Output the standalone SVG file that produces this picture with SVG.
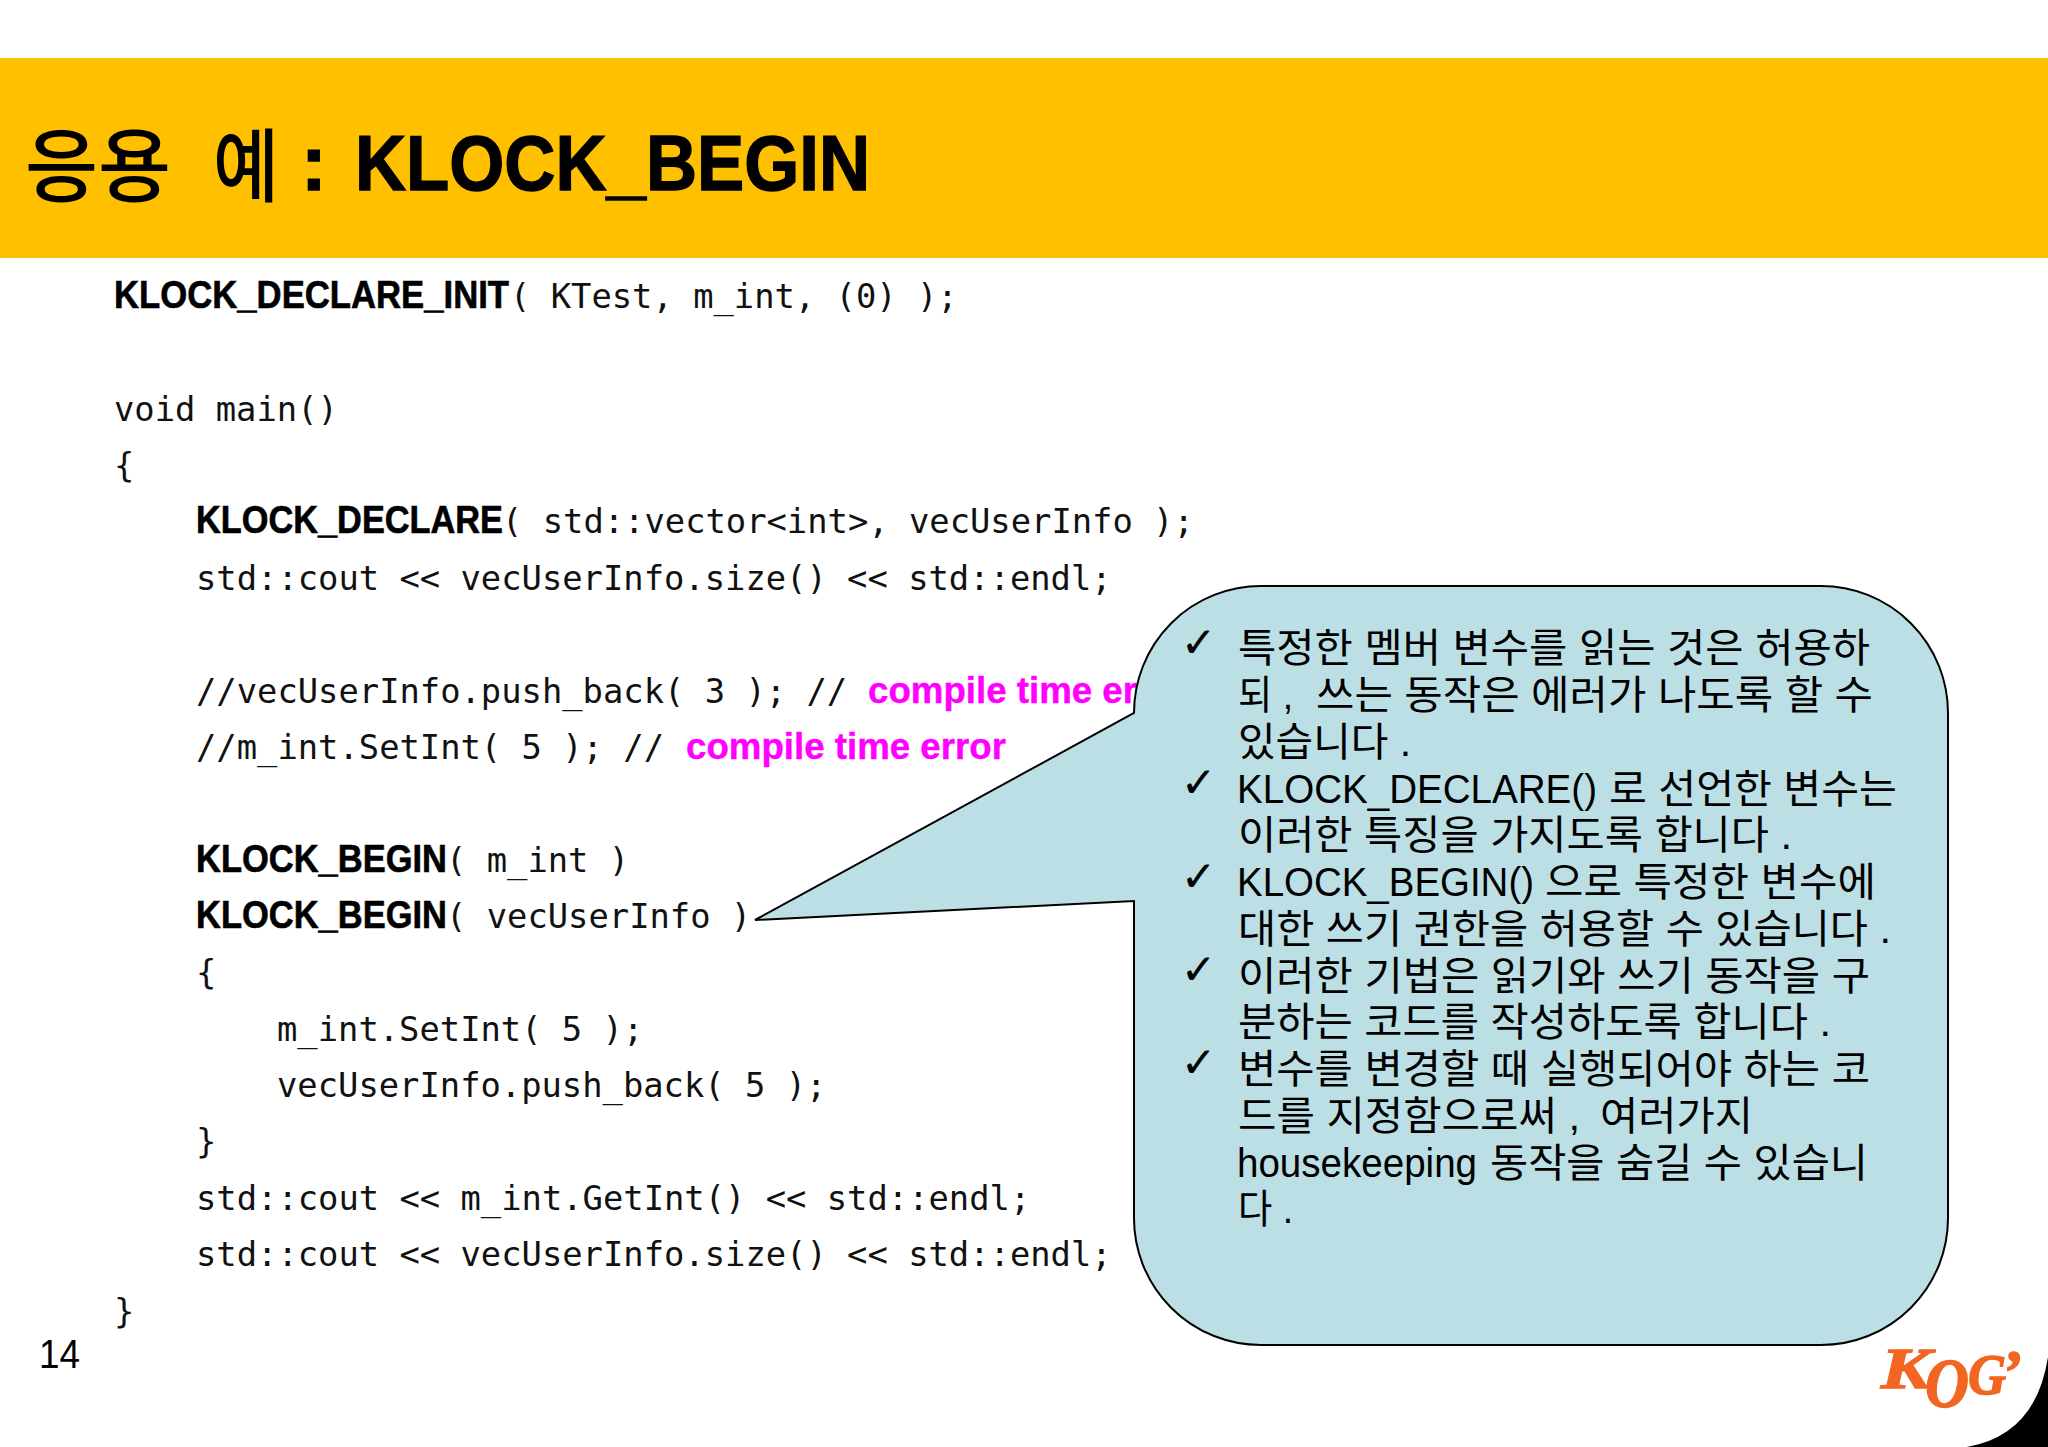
<svg xmlns="http://www.w3.org/2000/svg" width="2048" height="1447" viewBox="0 0 2048 1447">
<style>
.mono{font-family:"DejaVu Sans Mono","Liberation Mono",monospace;font-size:33.8px;fill:#111}
.kw{font-family:"Liberation Sans",Arial,sans-serif;font-size:38px;font-weight:700;fill:#000;stroke:#000;stroke-width:.6px}
.mg{font-family:"Liberation Sans",Arial,sans-serif;font-size:37px;font-weight:700;fill:#ff00ff;stroke:#ff00ff;stroke-width:.4px}
.bt{font-family:"Liberation Sans","Noto Sans CJK KR",sans-serif;font-size:40px;fill:#000}
.ck{font-family:"DejaVu Sans",sans-serif;font-size:42px;fill:#000;stroke:#000;stroke-width:.3px}
.tt{font-family:"Liberation Sans",sans-serif;font-size:77px;font-weight:700;fill:#000;stroke:#000;stroke-width:1.4px}
.tk{font-family:"Noto Sans CJK KR",sans-serif;font-size:80px;font-weight:500;fill:#000}
.lg{font-family:"Liberation Serif",serif;font-weight:700;font-style:italic;fill:#f26522;stroke:#f26522;stroke-width:1.5px}
</style>
<rect width="2048" height="1447" fill="#fff"/>
<g id="banner">
<rect x="0" y="58" width="2048" height="200" fill="#ffc000"/>
<text class="tk" x="25" y="195" textLength="146" lengthAdjust="spacingAndGlyphs">응용</text>
<text class="tk" x="213" y="195" textLength="66" lengthAdjust="spacingAndGlyphs">예</text>
<text class="tt" x="301" y="190">:</text>
<text class="tt" x="355" y="190" textLength="515" lengthAdjust="spacingAndGlyphs">KLOCK_BEGIN</text>
</g>
<g id="code">
<text class="kw" x="114" y="308" textLength="395" lengthAdjust="spacingAndGlyphs">KLOCK_DECLARE_INIT</text>
<text class="mono" x="510" y="308" xml:space="preserve">( KTest, m_int, (0) );</text>
<text class="mono" x="114" y="420.7">void main()</text>
<text class="mono" x="114" y="477.1">{</text>
<text class="kw" x="196" y="533.4" textLength="307" lengthAdjust="spacingAndGlyphs">KLOCK_DECLARE</text>
<text class="mono" x="502" y="533.4" xml:space="preserve">( std::vector&lt;int&gt;, vecUserInfo );</text>
<text class="mono" x="196" y="589.8" xml:space="preserve">std::cout &lt;&lt; vecUserInfo.size() &lt;&lt; std::endl;</text>
<text class="mono" x="196" y="702.5" xml:space="preserve">//vecUserInfo.push_back( 3 ); // </text>
<text class="mg" x="868" y="702.5" textLength="320" lengthAdjust="spacingAndGlyphs">compile time error</text>
<text class="mono" x="196" y="758.9" xml:space="preserve">//m_int.SetInt( 5 ); // </text>
<text class="mg" x="686" y="758.9" textLength="320" lengthAdjust="spacingAndGlyphs">compile time error</text>
<text class="kw" x="196" y="871.6" textLength="251" lengthAdjust="spacingAndGlyphs">KLOCK_BEGIN</text>
<text class="mono" x="446" y="871.6" xml:space="preserve">( m_int )</text>
<text class="kw" x="196" y="928" textLength="251" lengthAdjust="spacingAndGlyphs">KLOCK_BEGIN</text>
<text class="mono" x="446" y="928" xml:space="preserve">( vecUserInfo )</text>
<text class="mono" x="196" y="984.3">{</text>
<text class="mono" x="277" y="1040.7" xml:space="preserve">m_int.SetInt( 5 );</text>
<text class="mono" x="277" y="1097" xml:space="preserve">vecUserInfo.push_back( 5 );</text>
<text class="mono" x="196" y="1153.4">}</text>
<text class="mono" x="196" y="1209.8" xml:space="preserve">std::cout &lt;&lt; m_int.GetInt() &lt;&lt; std::endl;</text>
<text class="mono" x="196" y="1266.1" xml:space="preserve">std::cout &lt;&lt; vecUserInfo.size() &lt;&lt; std::endl;</text>
<text class="mono" x="114" y="1322.5">}</text>
</g>
<g id="callout">
<path d="M1134 713 A127 127 0 0 1 1261 586 H1821 A127 127 0 0 1 1948 713 V1217 A127 127 0 0 1 1821 1345 H1261 A127 127 0 0 1 1134 1217 V901 L755 920 L1134 713 Z" fill="#bbdfe4" stroke="#000" stroke-width="2"/>
<text class="ck" x="1181" y="656.5">✓</text>
<text class="ck" x="1181" y="796.5">✓</text>
<text class="ck" x="1181" y="890.5">✓</text>
<text class="ck" x="1181" y="983.5">✓</text>
<text class="ck" x="1181" y="1076.5">✓</text>
<text class="bt" x="1238" y="662.3" textLength="632" lengthAdjust="spacingAndGlyphs">특정한 멤버 변수를 읽는 것은 허용하</text>
<text class="bt" x="1238" y="709" textLength="55" lengthAdjust="spacingAndGlyphs">되 ,</text>
<text class="bt" x="1316" y="709" textLength="557" lengthAdjust="spacingAndGlyphs">쓰는 동작은 에러가 나도록 할 수</text>
<text class="bt" x="1238" y="755.8" textLength="173" lengthAdjust="spacingAndGlyphs">있습니다 .</text>
<text class="bt" x="1237" y="802.5" textLength="360" lengthAdjust="spacingAndGlyphs">KLOCK_DECLARE()</text>
<text class="bt" x="1609" y="802.5" textLength="288" lengthAdjust="spacingAndGlyphs">로 선언한 변수는</text>
<text class="bt" x="1238" y="849.3" textLength="554" lengthAdjust="spacingAndGlyphs">이러한 특징을 가지도록 합니다 .</text>
<text class="bt" x="1237" y="896" textLength="297" lengthAdjust="spacingAndGlyphs">KLOCK_BEGIN()</text>
<text class="bt" x="1545" y="896" textLength="331" lengthAdjust="spacingAndGlyphs">으로 특정한 변수에</text>
<text class="bt" x="1238" y="942.8" textLength="653" lengthAdjust="spacingAndGlyphs">대한 쓰기 권한을 허용할 수 있습니다 .</text>
<text class="bt" x="1238" y="989.5" textLength="632" lengthAdjust="spacingAndGlyphs">이러한 기법은 읽기와 쓰기 동작을 구</text>
<text class="bt" x="1238" y="1036.3" textLength="593" lengthAdjust="spacingAndGlyphs">분하는 코드를 작성하도록 합니다 .</text>
<text class="bt" x="1238" y="1083" textLength="632" lengthAdjust="spacingAndGlyphs">변수를 변경할 때 실행되어야 하는 코</text>
<text class="bt" x="1238" y="1129.8" textLength="342" lengthAdjust="spacingAndGlyphs">드를 지정함으로써 ,</text>
<text class="bt" x="1600" y="1129.8" textLength="153" lengthAdjust="spacingAndGlyphs">여러가지</text>
<text class="bt" x="1237" y="1176.5" textLength="240" lengthAdjust="spacingAndGlyphs">housekeeping</text>
<text class="bt" x="1490" y="1176.5" textLength="378" lengthAdjust="spacingAndGlyphs">동작을 숨길 수 있습니</text>
<text class="bt" x="1238" y="1223.3" textLength="55" lengthAdjust="spacingAndGlyphs">다 .</text>
</g>
<g id="page-number">
<text x="39" y="1368" font-family="Liberation Sans, Arial, sans-serif" font-size="40" fill="#000" textLength="41" lengthAdjust="spacingAndGlyphs">14</text>
</g>
<g id="corner">
<path d="M1967 1447 Q2036 1435 2048 1357 V1447 Z" fill="#000"/>
</g>
<g id="logo">
<text class="lg" x="1881" y="1388" font-size="58" textLength="50" lengthAdjust="spacingAndGlyphs">K</text>
<text class="lg" x="1925" y="1407" font-size="70" textLength="44" lengthAdjust="spacingAndGlyphs">O</text>
<text class="lg" x="1968" y="1394" font-size="58" textLength="38" lengthAdjust="spacingAndGlyphs">G</text>
<text class="lg" x="2001" y="1392" font-size="62">’</text>
</g>
</svg>
